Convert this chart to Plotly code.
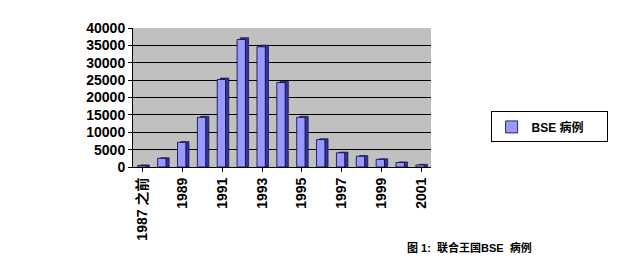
import plotly.graph_objects as go

categories = ["1987 之前", "1988", "1989", "1990", "1991", "1992", "1993", "1994",
              "1995", "1996", "1997", "1998", "1999", "2000", "2001"]
cases = [450, 2500, 7100, 14300, 25200, 36700, 34600, 24300, 14300, 7900, 4100, 3100, 2200, 1300, 600]
series_name = "BSE 病例"
y_ticks = [0, 5000, 10000, 15000, 20000, 25000, 30000, 35000, 40000]
caption = "图 1:  联合王国BSE  病例"

FONT = "Liberation Sans, Arial, Noto Sans CJK SC, sans-serif"

fig = go.Figure()
# side face (3D effect)
fig.add_trace(go.Bar(x=categories, y=[v * 1.01 + 150 for v in cases], width=0.42, offset=-0.1,
                     marker=dict(color="#333399", line=dict(color="#000033", width=0.6)),
                     showlegend=False, hoverinfo="skip"))
# front face
fig.add_trace(go.Bar(x=categories, y=cases, width=0.42, offset=-0.26, name=series_name,
                     marker=dict(color="#9999FF", line=dict(color="#000033", width=0.8))))

fig.update_layout(
    width=617, height=259,
    margin=dict(l=133, r=186, t=28, b=92, autoexpand=False),
    paper_bgcolor="white", plot_bgcolor="#C0C0C0",
    barmode="overlay",
    font=dict(family=FONT, size=13, color="black"),
    showlegend=True,
    legend=dict(x=1.2, y=0.4, xanchor="left", yanchor="top", bgcolor="white", orientation="h",
                bordercolor="black", borderwidth=1, font=dict(size=12, family=FONT, weight="bold"),
                itemwidth=30, entrywidth=70, tracegroupgap=0),
    xaxis=dict(type="category", tickvals=categories[::2], ticktext=categories[::2], tickangle=-90,
               tickfont=dict(size=14, family=FONT, weight="bold"), showgrid=False,
               showline=True, linecolor="black", ticks="outside", ticklen=4, tickcolor="black",
               range=[-0.5, 14.5]),
    yaxis=dict(range=[0, 40000], tickvals=y_ticks, ticktext=[str(v) for v in y_ticks],
               tickfont=dict(size=14, family=FONT, weight="bold"),
               showgrid=True, gridcolor="black", gridwidth=1, showline=True, linecolor="black",
               ticks="outside", ticklen=4, tickcolor="black", zeroline=False),
    annotations=[dict(text=caption, x=0.913, y=-0.576, xref="paper", yref="paper",
                      xanchor="left", yanchor="middle", showarrow=False,
                      font=dict(size=11, family=FONT, weight="bold"))],
)

fig.write_html("out.html")
